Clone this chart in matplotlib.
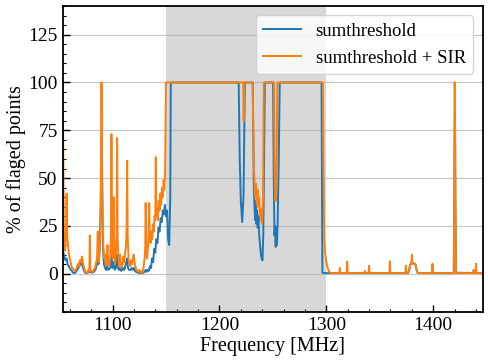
import matplotlib
matplotlib.use("Agg")
import matplotlib.pyplot as plt
from matplotlib.ticker import AutoMinorLocator, MultipleLocator

# ---- data ----
freq_blue = [1053.3, 1054, 1055, 1056, 1057, 1058, 1059, 1060, 1061, 1062, 1063, 1064, 1065, 1066,
             1067, 1068, 1069, 1070, 1071, 1072, 1073, 1074, 1075, 1076, 1077, 1078, 1078.8, 1079.5,
             1081, 1082.5, 1084, 1085, 1086.2, 1087, 1088, 1089, 1089.7, 1090.5, 1091.2, 1092, 1093,
             1094, 1095, 1096, 1097, 1098, 1099, 1100, 1101, 1102, 1103, 1104.3, 1105, 1106, 1107,
             1108, 1109, 1110, 1111, 1112, 1113.7, 1114.5, 1115.5, 1117, 1118, 1119, 1120, 1121, 1122,
             1124, 1126, 1128, 1129, 1130, 1131, 1132, 1133, 1134, 1135, 1136, 1137, 1138, 1139, 1140,
             1141, 1142, 1143, 1144, 1145, 1146, 1147, 1148, 1149, 1150, 1151, 1152, 1153, 1154, 1154.5,
             1218, 1219, 1220, 1221.3, 1222.5, 1223.3, 1223.8,
             1231.2, 1231.5, 1232.2, 1232.8, 1233.4, 1234, 1234.6, 1235.2, 1235.8, 1236.5, 1237.2,
             1238, 1238.8, 1239.6, 1240.3, 1241, 1241.8, 1242.5,
             1250.2, 1250.8, 1251.5, 1252, 1252.6, 1253.2, 1253.8, 1254.5, 1255.5, 1256.4,
             1295.5, 1296.3, 1300, 1376.5, 1377.5, 1378.3, 1379.2, 1380.5, 1382.5, 1383.5, 1384.4,
             1385.3, 1386.5, 1419.2, 1419.7, 1420.2, 1420.7, 1421.2, 1446.2]
val_blue = [13, 11, 9, 7, 8, 5, 4, 3, 2, 1.5, 0.5, 0.3, 0.5, 1,
            2, 3, 4, 5, 6, 4, 2, 0.8, 0.3, 0.3, 0.5, 1, 3, 0.8,
            0.5, 1, 2, 4, 6, 5, 12, 35, 70, 40, 12, 5, 3,
            2, 4, 2, 2.5, 3, 10, 3, 6, 2, 3, 10, 3, 2, 3,
            1.5, 2, 3, 2, 4, 8, 3, 2, 2, 3, 2, 3, 1.5, 1,
            0.5, 0.3, 0.3, 0.5, 1, 2, 1, 2, 1.5, 4, 3, 8, 6, 13, 11,
            18, 16, 24, 22, 29, 27, 33, 31, 36, 30, 33, 18, 15, 40, 100,
            100, 60, 38, 27, 40, 80, 100,
            100, 80, 45, 35, 28, 38, 26, 33, 24, 30, 20,
            15, 10, 7.5, 7, 20, 60, 100,
            100, 50, 20, 25, 14, 24, 15, 28, 60, 100,
            100, 0.5, 0.3, 0.3, 2, 4.5, 5.3, 5.3, 5.3, 4.5, 2,
            0.5, 0.3, 0.3, 40, 100, 40, 0.5, 0.3]

freq_orange = [1053.3, 1054.0, 1054.5, 1055.5, 1056.3, 1057.0, 1057.6, 1058.5, 1059.5, 1060.5, 1061.5,
               1062.5, 1063.5, 1064.5, 1065.5, 1066.5, 1067.5, 1068.5, 1069.5, 1070.5, 1071.5, 1072.5,
               1073.5, 1074.5, 1075.5, 1076.5, 1077.5, 1078.3, 1078.8, 1079.3, 1080.5, 1081.5, 1082.5,
               1083.5, 1084.5, 1085.5, 1086.2, 1086.8, 1087.5, 1088.5, 1089.2, 1089.7, 1090.2, 1090.8,
               1091.5, 1092.3, 1093.0, 1093.8, 1094.5, 1095.3, 1096, 1097, 1097.8, 1098.5, 1099.0,
               1099.5, 1100.2, 1101.0, 1101.5, 1102.3, 1103.2, 1103.8, 1104.3, 1104.8, 1105.5, 1106.3,
               1107, 1107.8, 1108.6, 1109.4, 1110.2, 1111, 1111.8, 1112.6, 1113.2, 1113.7, 1114.2, 1115,
               1115.8, 1116.6, 1117.4, 1118.2, 1119, 1119.8, 1120.6, 1121.4, 1122.2, 1123.2, 1124.2,
               1125.2, 1126.2, 1127.2, 1128, 1129, 1130, 1130.6, 1131, 1131.5, 1132.3, 1133.2, 1133.8,
               1134.3, 1134.8, 1135.6, 1136.4, 1137.2, 1138, 1138.6, 1139.3, 1140, 1140.5, 1141, 1141.8,
               1142.5, 1143.2, 1144, 1144.8, 1145.5, 1146.3, 1147, 1147.8, 1148.5, 1149.2, 1150.0,
               1222.2, 1222.7, 1223.2,
               1231.0, 1232.3, 1233.0, 1233.6, 1234.3, 1235, 1235.7, 1236.4, 1237.1, 1237.8, 1238.5,
               1239.3, 1240.0, 1240.8, 1241.5,
               1251.0, 1251.8, 1252.4, 1253.0, 1253.6, 1254.2,
               1296.8, 1297.3, 1298.0, 1298.6, 1299.5, 1300.5, 1301.5, 1302.5, 1303.5, 1305,
               1312.2, 1312.6, 1313.0, 1319.1, 1319.5, 1319.9, 1335.6, 1336, 1336.4, 1339.6, 1340,
               1340.4, 1359, 1359.4, 1359.8, 1374, 1374.4, 1374.8, 1376.5, 1377.5, 1378.3, 1379.2,
               1379.8, 1380.1, 1380.5, 1381.5, 1382.5, 1383.5, 1384.4, 1385.3, 1386.5, 1398.9, 1399.3,
               1399.7, 1419.2, 1419.7, 1420.2, 1420.7, 1421.2, 1437.3, 1437.7, 1438.1, 1439.6, 1440,
               1440.4, 1446.2]
val_orange = [100, 60, 22, 12, 18, 42, 20, 14, 9, 7, 4,
              3, 2, 1.5, 2, 3, 5, 4, 7, 6, 9, 5,
              3, 1, 0.5, 0.5, 2, 1, 20, 2, 1, 1, 2,
              3, 5, 8, 22, 6, 10, 20, 55, 100, 60, 30,
              14, 8, 10, 4, 6, 15, 5, 4, 8, 20, 73,
              20, 8, 40, 10, 5, 12, 20, 71, 18, 8, 4,
              10, 5, 3, 5, 9, 6, 11, 14, 25, 59, 20, 8,
              5, 4, 7, 5, 8, 10, 6, 4, 2, 1.5, 1,
              2, 0.5, 1, 0.5, 3, 8, 14, 37, 15, 8, 14, 22,
              37, 20, 16, 22, 18, 26, 22, 30, 28, 61, 30, 34,
              28, 38, 33, 42, 36, 45, 40, 49, 44, 53, 100,
              100, 80, 100,
              100, 55, 45, 40, 47, 36, 44, 35, 40, 30, 34,
              27, 26, 40, 100,
              100, 45, 38, 42, 60, 100,
              100, 60, 20, 12, 8, 4.7, 2.5, 1.2, 0.5, 0.3,
              0.3, 3, 0.3, 0.3, 6.3, 0.3, 0.3, 1.5, 0.3, 0.3, 4.2,
              0.3, 0.3, 6.5, 0.3, 0.3, 4.2, 0.3, 0.5, 2, 4.5, 5.4,
              7, 10, 6, 5.3, 5.3, 4.5, 2, 0.5, 0.3, 0.3, 5.2,
              0.3, 0.3, 40, 100, 40, 0.5, 0.3, 2, 0.3, 0.3, 5.2,
              0.3, 0.3]

series_labels = ["sumthreshold", "sumthreshold + SIR"]
band = (1150, 1300)

# ---- plotting ----
plt.rcParams['font.family'] = ['Liberation Serif', 'DejaVu Serif']
plt.rcParams['font.size'] = 14

fig = plt.figure(figsize=(4.89, 3.64), dpi=100)
ax = fig.add_axes([0.128, 0.143, 0.859, 0.8405])

ax.axvspan(band[0], band[1], color='gray', alpha=0.3, lw=0)
ax.plot(freq_blue, val_blue, color='#1f77b4', lw=1.4, label=series_labels[0])
ax.plot(freq_orange, val_orange, color='#ff7f0e', lw=1.4, label=series_labels[1])

ax.set_xlim(1053.3, 1446.2)
ax.set_ylim(-20, 140)
ax.xaxis.set_major_locator(MultipleLocator(100))
ax.set_yticks([0, 25, 50, 75, 100, 125])
ax.xaxis.set_minor_locator(AutoMinorLocator(5))
ax.yaxis.set_minor_locator(AutoMinorLocator(5))
ax.tick_params(which='both', direction='in', labelsize=14)
ax.tick_params(which='major', length=5, width=1)
ax.tick_params(which='minor', length=2.5, width=0.8)
ax.yaxis.grid(True, color='#b0b0b0', lw=0.9, alpha=0.7)
for s in ax.spines.values():
    s.set_linewidth(1.3)

ax.set_xlabel("Frequency [MHz]", fontsize=14.5, labelpad=2)
ax.set_ylabel("% of flaged points", fontsize=14.5, labelpad=2)
ax.legend(loc='upper right', fontsize=13.5, framealpha=0.8)

fig.savefig("out.png", dpi=100)
